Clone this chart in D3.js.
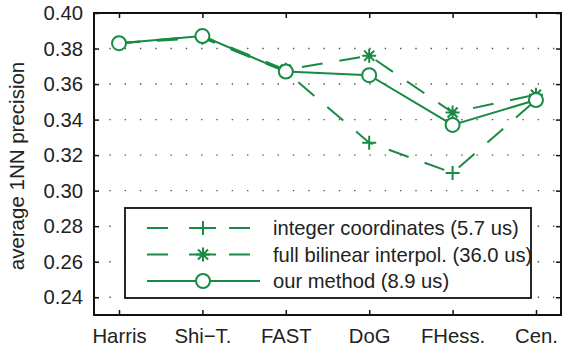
<!DOCTYPE html>
<html>
<head>
<meta charset="utf-8">
<script src="https://cdn.jsdelivr.net/npm/d3@7"></script>
<style>
  body { margin: 0; background: #fff; }
  text { font-family: "Liberation Sans", Arial, Helvetica, sans-serif; fill: #222; }
</style>
</head>
<body>
<svg id="chart" width="562" height="347"></svg>
<script>
// Detector categories and average 1NN precision per descriptor sampling scheme
const categories = ["Harris", "Shi\u2212T.", "FAST", "DoG", "FHess.", "Cen."];
const integerCoords = [0.383, 0.386, 0.367, 0.327, 0.310, 0.351];
const bilinearInterp = [0.383, 0.387, 0.368, 0.376, 0.344, 0.354];
const ourMethod = [0.383, 0.387, 0.367, 0.365, 0.337, 0.351];
const yTicks = [0.24, 0.26, 0.28, 0.30, 0.32, 0.34, 0.36, 0.38, 0.40];
const legendLabels = [
  "integer coordinates (5.7 us)",
  "full bilinear interpol. (36.0 us)",
  "our method (8.9 us)"
];

const green = "#198a44";
const svg = d3.select("#chart");
const plotLeft = 94, plotRight = 561, plotTop = 13, plotBottom = 315;

const x = d3.scaleLinear().domain([-0.3, categories.length - 0.7]).range([plotLeft, plotRight]);
const y = d3.scaleLinear().domain([0.23, 0.40]).range([plotBottom, plotTop]);
const idx = d3.range(categories.length);

// dotted horizontal grid
svg.append("g").selectAll("line")
  .data(yTicks.filter(v => v < 0.40))
  .join("line")
  .attr("x1", plotLeft).attr("x2", plotRight)
  .attr("y1", d => y(d)).attr("y2", d => y(d))
  .attr("stroke", "#555").attr("stroke-width", 1.4)
  .attr("stroke-dasharray", "1.4 13.9");

// axes with inward ticks
const fontSize = 20.3;
const gB = svg.append("g").attr("transform", `translate(0,${plotBottom})`)
  .call(d3.axisBottom(x).tickValues(idx).tickFormat(i => categories[i])
    .tickSizeInner(-5).tickSizeOuter(0).tickPadding(14));
const gT = svg.append("g").attr("transform", `translate(0,${plotTop})`)
  .call(d3.axisTop(x).tickValues(idx).tickFormat("").tickSizeInner(-5).tickSizeOuter(0));
const gL = svg.append("g").attr("transform", `translate(${plotLeft},0)`)
  .call(d3.axisLeft(y).tickValues(yTicks).tickFormat(d3.format(".2f"))
    .tickSizeInner(-5).tickSizeOuter(0).tickPadding(11));
const gR = svg.append("g").attr("transform", `translate(${plotRight},0)`)
  .call(d3.axisRight(y).tickValues(yTicks).tickFormat("").tickSizeInner(-5).tickSizeOuter(0));
[gB, gT, gL, gR].forEach(g => {
  g.select(".domain").remove();
  g.selectAll(".tick line").attr("stroke", "#111").attr("stroke-width", 1.5);
  g.selectAll("text").attr("font-size", fontSize).attr("fill", "#222")
    .style("font-family", "'Liberation Sans', Arial, sans-serif");
});

// frame
svg.append("rect")
  .attr("x", plotLeft).attr("y", plotTop)
  .attr("width", plotRight - plotLeft).attr("height", plotBottom - plotTop)
  .attr("fill", "none").attr("stroke", "#111").attr("stroke-width", 2);

// y-axis title
svg.append("text")
  .attr("transform", `translate(24,${(plotTop + plotBottom) / 2 + 2}) rotate(-90)`)
  .attr("text-anchor", "middle")
  .attr("font-size", 20.5)
  .text("average 1NN precision");

// marker shapes
function drawMarker(g, kind, cx, cy) {
  const s = 7;
  if (kind === "plus") {
    g.append("path").attr("d", `M${cx - s},${cy}H${cx + s}M${cx},${cy - s}V${cy + s}`)
      .attr("stroke", green).attr("stroke-width", 2).attr("fill", "none");
  } else if (kind === "star") {
    const d = s * 0.72;
    g.append("path")
      .attr("d", `M${cx - s},${cy}H${cx + s}M${cx},${cy - s}V${cy + s}` +
        `M${cx - d},${cy - d}L${cx + d},${cy + d}M${cx - d},${cy + d}L${cx + d},${cy - d}`)
      .attr("stroke", green).attr("stroke-width", 2).attr("fill", "none");
  } else {
    g.append("circle").attr("cx", cx).attr("cy", cy).attr("r", 7)
      .attr("fill", "#fff").attr("stroke", green).attr("stroke-width", 2);
  }
}

const series = [
  { values: integerCoords, dash: "21 17", marker: "plus" },
  { values: bilinearInterp, dash: "21 17", marker: "star" },
  { values: ourMethod, dash: null, marker: "circle" }
];

const line = d3.line().x((d, i) => x(i)).y(d => y(d));
series.forEach(s => {
  const g = svg.append("g");
  g.append("path").datum(s.values)
    .attr("d", line)
    .attr("fill", "none").attr("stroke", green).attr("stroke-width", 2)
    .attr("stroke-dasharray", s.dash);
  s.values.forEach((v, i) => drawMarker(g, s.marker, x(i), y(v)));
});

// legend
const lg = svg.append("g");
lg.append("rect").attr("x", 125).attr("y", 208).attr("width", 406).attr("height", 90)
  .attr("fill", "#fff").attr("stroke", "#111").attr("stroke-width", 1.8);
series.forEach((s, k) => {
  const ly = 228 + k * 26.5;
  const g = lg.append("g");
  if (s.dash) {
    [[147, 168], [189, 216], [229, 250]].forEach(([a, b]) =>
      g.append("line").attr("x1", a).attr("x2", b).attr("y1", ly).attr("y2", ly)
        .attr("stroke", green).attr("stroke-width", 2));
  } else {
    g.append("line").attr("x1", 147).attr("x2", 260).attr("y1", ly).attr("y2", ly)
      .attr("stroke", green).attr("stroke-width", 2);
  }
  drawMarker(g, s.marker, 203, ly);
  lg.append("text").attr("x", 273).attr("y", ly).attr("dy", "0.35em")
    .attr("font-size", 20.2).text(legendLabels[k]);
});
</script>
</body>
</html>
